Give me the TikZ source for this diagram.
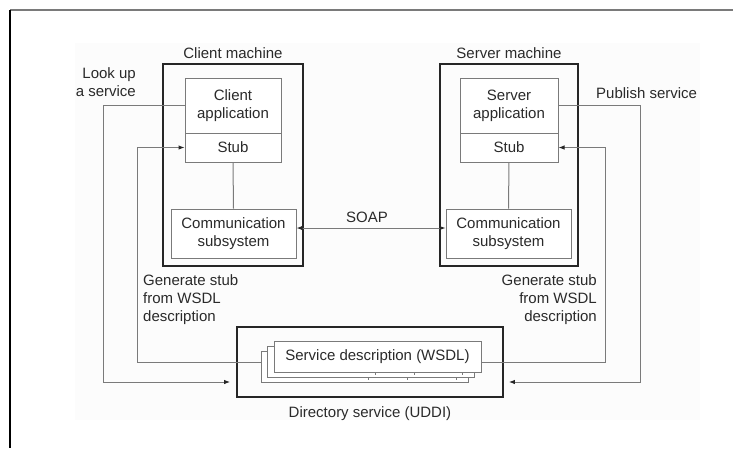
\documentclass[tikz,border=0pt]{standalone}
\usepackage{fontspec}
\setmainfont{Liberation Sans}
\usetikzlibrary{arrows.meta}
\definecolor{linegray}{HTML}{7A7A7A}
\definecolor{textgray}{HTML}{2A2A2A}
\begin{document}
\begin{tikzpicture}[x=1pt,y=-1pt,
  every node/.style={font=\fontsize{15}{18}\selectfont, text=textgray},
  machine/.style={draw=black!85, line width=1.8pt, inner sep=0pt},
  inbox/.style={draw=linegray, line width=1pt, fill=white, inner sep=0pt, align=center},
  card/.style={draw=linegray, line width=1pt, fill=white, inner sep=0pt, minimum width=207pt, minimum height=31pt},
  conn/.style={draw=linegray, line width=1pt},
  tip/.tip={Latex[length=6pt,width=4.5pt,color=black!85]},
  arr/.style={conn, -tip},
  lbl/.style={inner sep=0pt}
]
\useasboundingbox (0,0) rectangle (734,448);
% background and frame
\fill[black!1.2] (75,43) rectangle (700,420);
\draw[linegray, line width=2pt] (10,10) -- (733,10);
\draw[black, line width=1.5pt] (10,10) -- (10,448);

% client machine
\node[machine, minimum width=140pt, minimum height=202pt] (cm) at (233,165) {};
\node[lbl] (cml) at (233,53) {Client machine};
\node[inbox, minimum width=96pt, minimum height=55pt] (capp) at (233,105.5) {Client\\application};
\node[inbox, minimum width=96pt, minimum height=29pt] (cstub) at (233,147.5) {Stub};
\node[inbox, minimum width=125pt, minimum height=49pt] (ccomm) at (233.5,233.5) {Communication\\subsystem};

% server machine
\node[machine, minimum width=138pt, minimum height=202pt] (sm) at (509,165) {};
\node[lbl] (sml) at (509,53) {Server machine};
\node[inbox, minimum width=98pt, minimum height=55pt] (sapp) at (509,105.5) {Server\\application};
\node[inbox, minimum width=98pt, minimum height=29pt] (sstub) at (509,147.5) {Stub};
\node[inbox, minimum width=125pt, minimum height=49pt] (scomm) at (508.5,233.5) {Communication\\subsystem};

% directory service
\node[machine, minimum width=266pt, minimum height=70pt] (dir) at (370,362) {};
\node[lbl] (dirl) at (370,414) {Directory service (UDDI)};
\node[card] (back) at (364.5,366.5) {};
\node[card] (mid) at (371,361.5) {};
\node[card] (front) at (377.5,356.5) {Service description (WSDL)};
\foreach \xx in {375,414,462} \draw[linegray, line width=0.8pt] (\xx,372) -- (\xx,375);
\foreach \xx in {368,407,456} \draw[linegray, line width=0.8pt] (\xx,377) -- (\xx,380);

% stub to communication
\draw[conn] (cstub.south) -- (ccomm.north);
\draw[conn] (sstub.south) -- (scomm.north);

% SOAP
\coordinate (sp) at (0,228);
\draw[conn, tip-tip] (ccomm.east |- sp) -- (scomm.west |- sp);
\node[lbl] (soap) at (367,217) {SOAP};

% left side connectors
\coordinate (lc) at (103,382);
\coordinate (gc) at (137,362);
\draw[arr, shorten >=6pt] (capp.west) -| (lc) -- (lc -| dir.west);
\draw[arr] (back.west |- gc) -- (gc) |- (cstub.west);
\node[lbl, anchor=east, align=right] (lookup) at (136,82.5) {Look up\\a service};
\node[lbl, anchor=west, align=left] (genl) at (143,300) {Generate stub\\from WSDL\\description};

% right side connectors
\coordinate (rc) at (640,382);
\coordinate (gs) at (605,362);
\draw[arr, shorten >=5pt] (sapp.east) -| (rc) -- (rc -| dir.east);
\draw[arr] (front.east |- gs) -- (gs) |- (sstub.east);
\node[lbl, anchor=west] (pub) at (596,93) {Publish service};
\node[lbl, anchor=east, align=right] (genr) at (597,300) {Generate stub\\from WSDL\\description};
\end{tikzpicture}
\end{document}
